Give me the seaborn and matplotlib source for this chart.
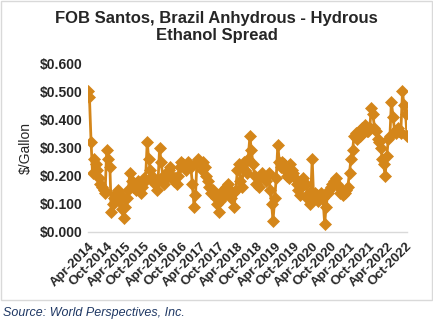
import numpy as np
import pandas as pd
import matplotlib
matplotlib.use("Agg")
import matplotlib.pyplot as plt
import matplotlib.dates as mdates
from matplotlib.patches import Rectangle
import seaborn as sns

# Semi-monthly readings ($/gallon), Apr-2014 .. Oct-2022 (two per month)
spread_2014 = [0.50, 0.48, 0.32, 0.21, 0.26, 0.24, 0.22, 0.19, 0.17, 0.16,
               0.15, 0.14, 0.29, 0.26, 0.23, 0.07, 0.10, 0.12]
spread_2015 = [0.14, 0.15, 0.11, 0.13, 0.08, 0.05, 0.09, 0.12, 0.15, 0.21,
               0.18, 0.16, 0.17, 0.15, 0.18, 0.16, 0.14, 0.16, 0.19, 0.18,
               0.32, 0.26, 0.22, 0.20]
spread_2016 = [0.18, 0.17, 0.15, 0.18, 0.30, 0.25, 0.20, 0.17, 0.19, 0.21,
               0.22, 0.23, 0.20, 0.18, 0.19, 0.17, 0.20, 0.23, 0.25, 0.24,
               0.23, 0.22, 0.25, 0.24]
spread_2017 = [0.23, 0.17, 0.09, 0.13, 0.25, 0.26, 0.24, 0.22, 0.25, 0.23,
               0.20, 0.18, 0.16, 0.14, 0.15, 0.13, 0.12, 0.10, 0.07, 0.11,
               0.14, 0.15, 0.13, 0.16]
spread_2018 = [0.17, 0.15, 0.12, 0.14, 0.09, 0.15, 0.22, 0.24, 0.18, 0.16,
               0.25, 0.22, 0.21, 0.26, 0.34, 0.29, 0.24, 0.20, 0.17, 0.19,
               0.16, 0.20, 0.21, 0.19]
spread_2019 = [0.18, 0.20, 0.21, 0.15, 0.10, 0.04, 0.12, 0.19, 0.31, 0.25,
               0.23, 0.25, 0.24, 0.22, 0.20, 0.19, 0.24, 0.22, 0.21, 0.19,
               0.17, 0.15, 0.13, 0.16]
spread_2020 = [0.19, 0.17, 0.17, 0.12, 0.14, 0.10, 0.26, 0.12, 0.14, 0.13,
               0.11, 0.12, 0.14, 0.12, 0.03, 0.09, 0.14, 0.15, 0.16, 0.17,
               0.18, 0.19, 0.17, 0.16]
spread_2021 = [0.14, 0.15, 0.13, 0.14, 0.15, 0.16, 0.21, 0.26, 0.29, 0.34,
               0.35, 0.33, 0.36, 0.34, 0.37, 0.35, 0.38, 0.36, 0.36, 0.37,
               0.44, 0.42, 0.37, 0.36]
spread_2022 = [0.33, 0.32, 0.30, 0.26, 0.24, 0.20, 0.27, 0.33, 0.34, 0.46,
               0.41, 0.36, 0.35, 0.37, 0.36, 0.35, 0.50, 0.45, 0.42, 0.34]

values = (spread_2014 + spread_2015 + spread_2016 + spread_2017 + spread_2018
          + spread_2019 + spread_2020 + spread_2021 + spread_2022)
dates = pd.date_range("2014-04-01", periods=len(values), freq="SMS")

tick_dates = pd.date_range("2014-04-01", "2022-10-01", freq="6MS")
y_ticks = [0.0, 0.1, 0.2, 0.3, 0.4, 0.5, 0.6]

title = "FOB Santos, Brazil Anhydrous - Hydrous\nEthanol Spread"
y_label = "$/Gallon"
source = "Source: World Perspectives, Inc."

color = "#D4861A"

sns.set_theme(style="white")
plt.rcParams["font.family"] = ["Liberation Sans", "DejaVu Sans"]

fig = plt.figure(figsize=(4.33, 3.25), dpi=100)
ax = fig.add_axes([88 / 433, 1 - 232 / 325, (407 - 88) / 433, (232 - 63) / 325])

df = pd.DataFrame({"date": dates, "value": values})
sns.lineplot(data=df, x="date", y="value", ax=ax, color=color, linewidth=2.0,
             marker="D", markersize=6.5, markeredgecolor=color,
             markerfacecolor=color, markeredgewidth=0.5)

ax.set_ylim(0, 0.6)
ax.set_xlim(dates[0], dates[-1])
ax.set_yticks(y_ticks)
ax.set_yticklabels([f"${v:.3f}" for v in y_ticks], fontweight="bold", fontsize=10)
ax.set_xticks(tick_dates)
ax.set_xticklabels([d.strftime("%b-%Y") for d in tick_dates], rotation=45,
                   ha="right", rotation_mode="anchor", fontweight="bold", fontsize=9.5)
ax.set_xlabel("")
ax.set_ylabel(y_label, fontsize=10, labelpad=5)

for s in ["top", "right", "left"]:
    ax.spines[s].set_visible(False)
ax.spines["bottom"].set_color("#D9D9D9")
ax.spines["bottom"].set_linewidth(1.0)
ax.tick_params(axis="x", which="major", direction="out", length=4, width=1,
               color="#D9D9D9", pad=2)
ax.tick_params(axis="y", length=0, pad=4)
ax.grid(False)

fig.text(0.5, 1 - 27 / 325, title, ha="center", va="center", fontsize=12,
         fontweight="bold", linespacing=1.15)
fig.text(3 / 433, 1 - 313 / 325, source, ha="left", va="center", fontsize=9,
         fontstyle="italic", color="#1F3864")

fig.patches.append(Rectangle((0.5 / 433, 1 - 300 / 325), 431.5 / 433, 299.5 / 325,
                             transform=fig.transFigure, fill=False,
                             edgecolor="#D9D9D9", linewidth=1.0))

fig.savefig("out.png", dpi=100)
